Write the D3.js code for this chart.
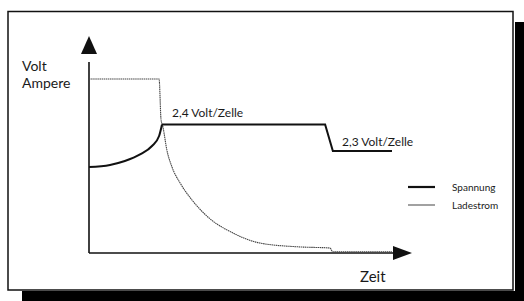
<!DOCTYPE html>
<html>
<head>
<meta charset="utf-8">
<script src="https://cdn.jsdelivr.net/npm/d3@7"></script>
<style>
  body { margin: 0; background: #fff; }
  text { font-family: Lato, "Noto Sans", sans-serif; fill: #1a1a1a; }
</style>
</head>
<body>
<div id="chart"></div>
<script>
// Ladestrom (charging current), time and value in relative units
var ladestromZeit = [0, 21.7, 22.3, 22.9, 24.1, 25.7, 28.2, 31.9, 36.8, 44.6, 52.9, 65.3, 74.6, 75.5, 93.8];
var ladestromWert = [80.2, 80.2, 61.5, 58.0, 47.5, 39.6, 32.3, 24.4, 16.6, 9.2, 4.6, 2.8, 2.3, 0.5, 0.5];

// Spannung (voltage)
var spannungZeit = [0, 6.5, 11.1, 15.8, 19.5, 21.7, 22.6, 73.1, 75.5, 93.8];
var spannungWert = [39.6, 40.6, 42.4, 45.4, 49.3, 53.9, 59.2, 59.2, 47.0, 47.0];
var spannungKnick = 6; // index where the rise turns into the flat 2,4 V level

var stufenLabels = ["2,4 Volt/Zelle", "2,3 Volt/Zelle"];
var legendLabels = ["Spannung", "Ladestrom"];

var width = 524, height = 301;

var svg = d3.select("#chart").append("svg")
    .attr("width", width)
    .attr("height", height);

// drop shadow + frame
svg.append("rect").attr("x", 515).attr("y", 22).attr("width", 9).attr("height", 279).attr("fill", "#000");
svg.append("rect").attr("x", 22).attr("y", 291).attr("width", 502).attr("height", 10).attr("fill", "#000");
svg.append("rect")
    .attr("x", 8).attr("y", 11.5)
    .attr("width", 505).attr("height", 278.5)
    .attr("fill", "#fff")
    .attr("stroke", "#111")
    .attr("stroke-width", 1.5);

var x = d3.scaleLinear().domain([0, 100]).range([89, 412]);
var y = d3.scaleLinear().domain([0, 100]).range([253, 36]);

// axes with arrow heads
var g = svg.append("g");
g.append("line")
    .attr("x1", x(0)).attr("x2", x(0))
    .attr("y1", y(0)).attr("y2", y(88))
    .attr("stroke", "#111").attr("stroke-width", 1.6);
g.append("line")
    .attr("x1", x(0)).attr("x2", x(96))
    .attr("y1", y(0)).attr("y2", y(0))
    .attr("stroke", "#111").attr("stroke-width", 1.6);
g.append("path")
    .attr("d", "M" + x(0) + "," + y(100) + "L" + (x(0) - 8) + "," + (y(100) + 18) + "L" + (x(0) + 8) + "," + (y(100) + 18) + "Z")
    .attr("fill", "#111");
g.append("path")
    .attr("d", "M" + x(100) + "," + y(0) + "L" + (x(100) - 19) + "," + (y(0) - 7) + "L" + (x(100) - 19) + "," + (y(0) + 7) + "Z")
    .attr("fill", "#111");

var curved = d3.line()
    .x(d => x(d[0]))
    .y(d => y(d[1]))
    .curve(d3.curveMonotoneX);
var straight = d3.line()
    .x(d => x(d[0]))
    .y(d => y(d[1]));

var strom = d3.zip(ladestromZeit, ladestromWert);
var spannung = d3.zip(spannungZeit, spannungWert);

svg.append("path")
    .datum(strom)
    .attr("d", curved)
    .attr("fill", "none")
    .attr("stroke", "#444")
    .attr("stroke-width", 1.1)
    .attr("stroke-dasharray", "1.5,0.6");

// rising part curved, the level steps straight
svg.append("path")
    .datum(spannung.slice(0, spannungKnick + 1))
    .attr("d", curved)
    .attr("fill", "none")
    .attr("stroke", "#111")
    .attr("stroke-width", 2);
svg.append("path")
    .datum(spannung.slice(spannungKnick))
    .attr("d", straight)
    .attr("fill", "none")
    .attr("stroke", "#111")
    .attr("stroke-width", 2);

// axis titles
svg.append("text").attr("x", 22).attr("y", 71).attr("font-size", 14).text("Volt");
svg.append("text").attr("x", 22).attr("y", 88).attr("font-size", 14).text("Ampere");
svg.append("text").attr("x", 360).attr("y", 282).attr("font-size", 15).text("Zeit");

// level labels
svg.append("text").attr("x", 172).attr("y", 117).attr("font-size", 12).text(stufenLabels[0]);
svg.append("text").attr("x", 342).attr("y", 146).attr("font-size", 12).text(stufenLabels[1]);

// legend
var legend = svg.append("g").selectAll("g")
    .data(legendLabels)
    .enter().append("g")
    .attr("transform", (d, i) => "translate(408," + (187 + i * 18) + ")");
legend.append("line")
    .attr("x1", 0).attr("x2", 27)
    .attr("stroke", (d, i) => i == 0 ? "#111" : "#555")
    .attr("stroke-width", (d, i) => i == 0 ? 2.2 : 1.1);
legend.append("text")
    .attr("x", 44).attr("y", 3.5)
    .attr("font-size", 10)
    .text(d => d);
</script>
</body>
</html>
